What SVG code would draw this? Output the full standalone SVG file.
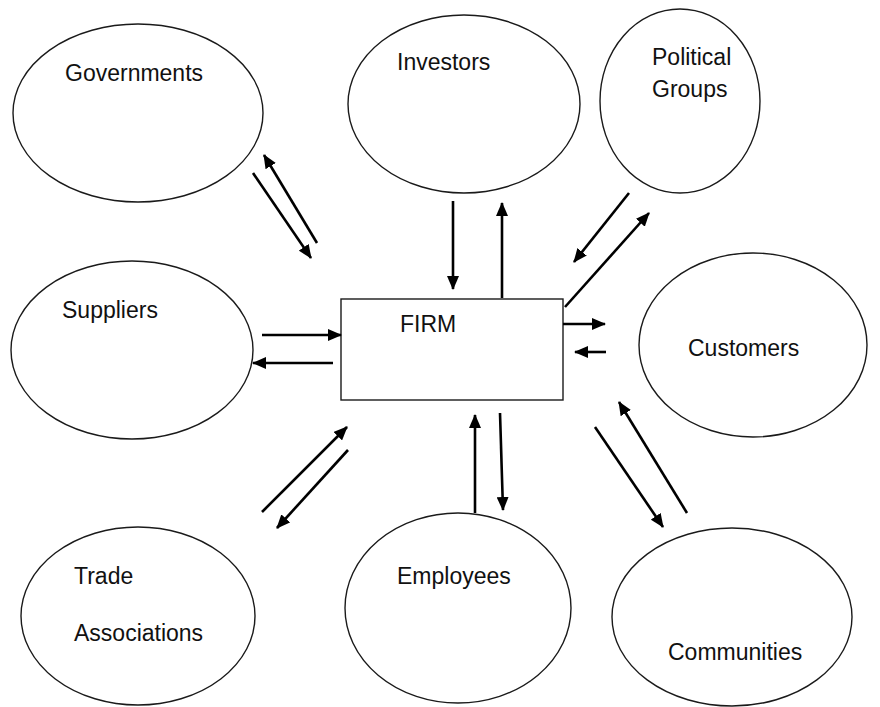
<svg xmlns="http://www.w3.org/2000/svg" width="880" height="707" viewBox="0 0 880 707">
  <style>
    .node ellipse, .node rect { fill: #ffffff; stroke: #1a1a1a; stroke-width: 1.4; }
    .label { font-family: "Liberation Sans", Arial, sans-serif; font-size: 23px; fill: #111111; }
    .conn path { fill: none; stroke: #000000; stroke-width: 2.6; marker-end: url(#head); }
  </style>
  <defs>
    <marker id="head" markerUnits="userSpaceOnUse" markerWidth="14" markerHeight="12" refX="13" refY="6" orient="auto">
      <path d="M0,0 L14,6 L0,12 z" fill="#000000"/>
    </marker>
  </defs>
  <rect width="880" height="707" fill="#ffffff"/>

  <g id="governments" class="node">
    <ellipse cx="138" cy="113" rx="125" ry="89"/>
    <text class="label" x="65" y="81">Governments</text>
  </g>
  <g id="investors" class="node">
    <ellipse cx="464" cy="104" rx="116" ry="89"/>
    <text class="label" x="397" y="70">Investors</text>
  </g>
  <g id="political-groups" class="node">
    <ellipse cx="680" cy="101" rx="80" ry="92"/>
    <text class="label" x="652" y="65">Political</text>
    <text class="label" x="652" y="97">Groups</text>
  </g>
  <g id="suppliers" class="node">
    <ellipse cx="132" cy="350" rx="121" ry="89"/>
    <text class="label" x="62" y="318">Suppliers</text>
  </g>
  <g id="firm" class="node">
    <rect x="341" y="299" width="222" height="101"/>
    <text class="label" x="400" y="332">FIRM</text>
  </g>
  <g id="customers" class="node">
    <ellipse cx="753" cy="345" rx="114" ry="92"/>
    <text class="label" x="688" y="356">Customers</text>
  </g>
  <g id="trade-associations" class="node">
    <ellipse cx="138" cy="616" rx="117" ry="89"/>
    <text class="label" x="74" y="584">Trade</text>
    <text class="label" x="74" y="641">Associations</text>
  </g>
  <g id="employees" class="node">
    <ellipse cx="458" cy="608" rx="113" ry="95"/>
    <text class="label" x="397" y="584">Employees</text>
  </g>
  <g id="communities" class="node">
    <ellipse cx="732" cy="617" rx="120" ry="89"/>
    <text class="label" x="668" y="660">Communities</text>
  </g>

  <g id="connectors" class="conn">
    <path d="M253 173 L311 258"/>
    <path d="M317 243 L264 155"/>
    <path d="M453 201 L453 289"/>
    <path d="M502 298 L502 203"/>
    <path d="M629 193 L574 262"/>
    <path d="M565 307 L649 213"/>
    <path d="M563 324 L605 324"/>
    <path d="M606 352 L575 352"/>
    <path d="M262 335 L341 335"/>
    <path d="M333 363 L253 363"/>
    <path d="M262 512 L347 427"/>
    <path d="M348 450 L277 528"/>
    <path d="M475 513 L475 415"/>
    <path d="M500 413 L503 510"/>
    <path d="M687 513 L619 402"/>
    <path d="M595 427 L663 527"/>
  </g>
</svg>
